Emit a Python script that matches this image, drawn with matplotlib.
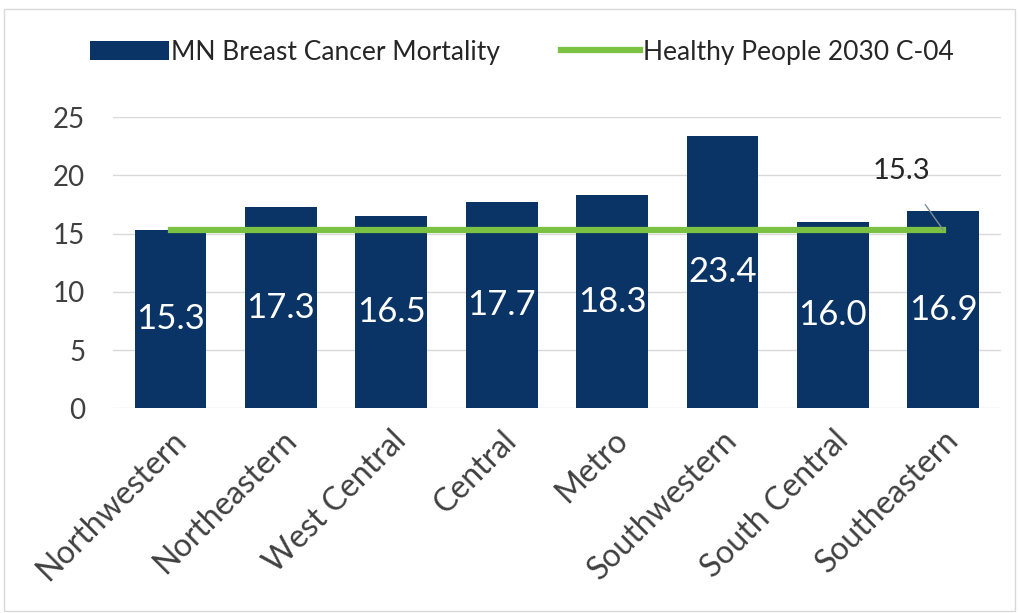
import matplotlib.pyplot as plt
from matplotlib.patches import Rectangle

# data
regions = ['Northwestern', 'Northeastern', 'West Central', 'Central',
           'Metro', 'Southwestern', 'South Central', 'Southeastern']
mortality = [15.3, 17.3, 16.5, 17.7, 18.3, 23.4, 16.0, 16.9]
hp2030_target = [15.3] * len(regions)

bar_color = '#0b3466'
line_color = '#7cc242'
text_color = '#404040'

plt.rcParams['font.family'] = ['Lato', 'DejaVu Sans']

fig = plt.figure(figsize=(10.19, 6.13), dpi=100)
ax = fig.add_axes([0.111, 0.334, 0.871, 0.475])

x = list(range(len(regions)))
ax.bar(x, mortality, width=0.65, color=bar_color, zorder=2,
       label='MN Breast Cancer Mortality')
ax.plot(x, hp2030_target, color=line_color, lw=4.5, zorder=3,
        label='Healthy People 2030 C-04')

# white value labels in the middle of each bar
for xi, v in zip(x, mortality):
    ax.text(xi, v / 2, f'{v:.1f}', color='white', fontsize=25,
            ha='center', va='center', zorder=4)

# callout for the target line
ax.annotate(f'{hp2030_target[-1]:.1f}', xy=(x[-1], hp2030_target[-1]),
            xytext=(x[-1] - 0.38, 20.4), fontsize=21, color='#262626',
            ha='center', va='center', zorder=5,
            arrowprops=dict(arrowstyle='-', color='#7f8c9a', lw=1,
                            shrinkA=16, shrinkB=0))

ax.set_xlim(-0.52, len(regions) - 0.48)
ax.set_ylim(0, 25)
ax.set_yticks(range(0, 26, 5))
ax.yaxis.grid(True, color='#d9d9d9', lw=1, zorder=0)
ax.set_axisbelow(True)
for s in ax.spines.values():
    s.set_visible(False)
ax.tick_params(axis='y', length=0, labelsize=20, colors=text_color, pad=20)
ax.set_xticks(x)
ax.set_xticklabels(regions, rotation=45, ha='right', rotation_mode='anchor')
ax.tick_params(axis='x', length=0, labelsize=23, colors=text_color, pad=12)

handles, labels = ax.get_legend_handles_labels()
order = [labels.index('MN Breast Cancer Mortality'), labels.index('Healthy People 2030 C-04')]
fig.legend([handles[i] for i in order], [labels[i] for i in order],
           loc='center', bbox_to_anchor=(0.512, 0.915), ncol=2, frameon=False,
           fontsize=19, handlelength=3.0, handletextpad=0.1, columnspacing=2.3,
           labelcolor='#262626')

# thin frame around the chart like the original screenshot
fig.patches.append(Rectangle((0.004, 0.004), 0.992, 0.982, transform=fig.transFigure,
                             fill=False, edgecolor='#d9d9d9', lw=1))

plt.savefig('out.png', dpi=100)
